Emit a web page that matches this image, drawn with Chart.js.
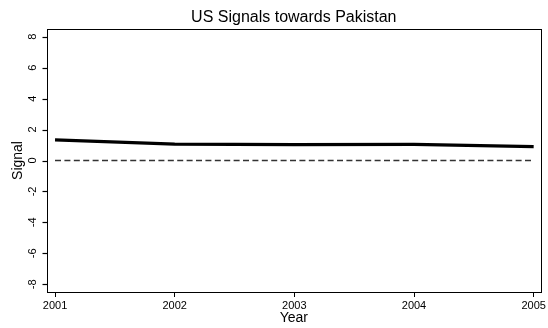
<!DOCTYPE html>
<html>
<head>
<meta charset="utf-8">
<title>US Signals towards Pakistan</title>
<script src="https://cdn.jsdelivr.net/npm/chart.js@4.4.1/dist/chart.umd.min.js"></script>
<style>
  html, body { margin: 0; padding: 0; background: #fff; }
  canvas { display: block; }
</style>
</head>
<body>
<canvas id="signals" width="548" height="328"></canvas>
<script>
const years = [2001, 2002, 2003, 2004, 2005];
const signal = [1.33, 1.06, 1.02, 1.04, 0.9];
const baseline = [0, 0, 0, 0, 0];
const yTicks = [-8, -6, -4, -2, 0, 2, 4, 6, 8];

const FONT = '"Liberation Sans", Arial, Helvetica, sans-serif';

// title, axis titles, y ticks with rotated labels and the box around the plot
const stataFrame = {
  id: 'stataFrame',
  afterDraw(chart) {
    const ctx = chart.ctx;
    const area = chart.chartArea;
    const y = chart.scales.y;
    const left = Math.round(area.left) + 0.5;
    ctx.save();
    ctx.strokeStyle = '#000';
    ctx.lineWidth = 1;
    ctx.strokeRect(left, Math.round(area.top) + 0.5,
      Math.round(area.right - area.left), Math.round(area.bottom - area.top));

    ctx.lineWidth = 1.2;
    yTicks.forEach(v => {
      const py = Math.round(y.getPixelForValue(v)) + 0.5;
      ctx.beginPath();
      ctx.moveTo(left - 5, py);
      ctx.lineTo(left, py);
      ctx.stroke();
    });

    ctx.fillStyle = '#000';
    ctx.textAlign = 'center';
    ctx.textBaseline = 'middle';

    ctx.font = '16px ' + FONT;
    ctx.fillText('US Signals towards Pakistan', (area.left + area.right) / 2, 18);

    ctx.font = '14px ' + FONT;
    ctx.fillText('Year', (area.left + area.right) / 2, 318);

    ctx.font = '11px ' + FONT;
    yTicks.forEach(v => {
      ctx.save();
      ctx.translate(33, y.getPixelForValue(v));
      ctx.rotate(-Math.PI / 2);
      ctx.fillText(String(v), 0, 0);
      ctx.restore();
    });

    ctx.font = '14px ' + FONT;
    ctx.save();
    ctx.translate(18, (area.top + area.bottom) / 2);
    ctx.rotate(-Math.PI / 2);
    ctx.fillText('Signal', 0, 0);
    ctx.restore();
    ctx.restore();
  }
};

new Chart(document.getElementById('signals'), {
  type: 'line',
  data: {
    datasets: [
      {
        label: 'Signal',
        data: years.map((yr, i) => ({ x: yr, y: signal[i] })),
        borderColor: '#000',
        borderWidth: 3.2,
        pointRadius: 0,
        tension: 0
      },
      {
        label: 'Zero',
        data: years.map((yr, i) => ({ x: yr, y: baseline[i] })),
        borderColor: '#333',
        borderWidth: 1.4,
        borderDash: [6, 3.4],
        pointRadius: 0
      }
    ]
  },
  options: {
    responsive: false,
    animation: false,
    devicePixelRatio: 1,
    layout: { padding: { left: 0, top: 29, right: 7, bottom: 0 } },
    plugins: {
      legend: { display: false },
      tooltip: { enabled: false }
    },
    scales: {
      x: {
        type: 'linear',
        min: 2000.933,
        max: 2005.058,
        afterBuildTicks: s => { s.ticks = years.map(v => ({ value: v })); },
        afterFit: s => { s.height = 36; },
        border: { display: true, color: '#000', width: 1 },
        grid: { drawOnChartArea: false, drawTicks: true, tickLength: 5, tickColor: '#000' },
        ticks: {
          color: '#000',
          font: { family: FONT, size: 11 },
          padding: 2,
          maxRotation: 0,
          callback: v => String(v)
        }
      },
      y: {
        min: -8.5,
        max: 8.5,
        afterBuildTicks: s => { s.ticks = yTicks.map(v => ({ value: v })); },
        afterFit: s => { s.width = 47; },
        border: { display: true, color: '#000', width: 1 },
        grid: { display: false },
        ticks: { display: false }
      }
    }
  },
  plugins: [stataFrame]
});
</script>
</body>
</html>
